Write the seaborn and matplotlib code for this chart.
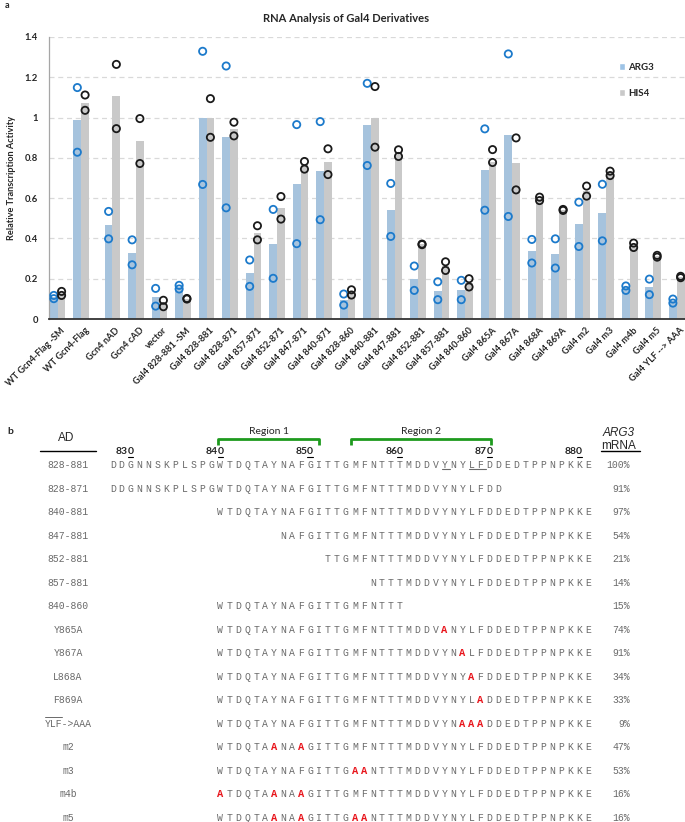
import numpy as np
import pandas as pd
import matplotlib.pyplot as plt
import seaborn as sns
from matplotlib.patches import Patch
from matplotlib.transforms import ScaledTranslation

# ---------------- panel a data ----------------
categories = [
    "WT Gcn4-Flag -SM", "WT Gcn4-Flag", "Gcn4 nAD", "Gcn4 cAD", "vector",
    "Gal4 828-881 -SM", "Gal4 828-881", "Gal4 828-871", "Gal4 857-871",
    "Gal4 852-871", "Gal4 847-871", "Gal4 840-871", "Gal4 828-860",
    "Gal4 840-881", "Gal4 847-881", "Gal4 852-881", "Gal4 857-881",
    "Gal4 840-860", "Gal4 865A", "Gal4 867A", "Gal4 868A", "Gal4 869A",
    "Gal4 m2", "Gal4 m3", "Gal4 m4b", "Gal4 m5", "Gal4 YLF --> AAA",
]

arg3_mean = [0.11, 0.99, 0.465, 0.33, 0.108, 0.158, 1.0, 0.905, 0.227,
             0.372, 0.668, 0.735, 0.095, 0.965, 0.54, 0.2, 0.14,
             0.143, 0.742, 0.912, 0.336, 0.325, 0.47, 0.528, 0.155,
             0.16, 0.09]
his4_mean = [0.127, 1.074, 1.105, 0.884, 0.078, 0.1, 1.0, 0.942, 0.428,
             0.552, 0.763, 0.781, 0.132, 1.0, 0.812, 0.37, 0.262,
             0.18, 0.779, 0.772, 0.596, 0.54, 0.635, 0.723, 0.366,
             0.311, 0.208]

arg3_rep1 = [0.117, 1.149, 0.534, 0.393, 0.152, 0.167, 1.329, 1.256, 0.293,
             0.544, 0.965, 0.98, 0.124, 1.17, 0.673, 0.263, 0.185,
             0.192, 0.944, 1.316, 0.395, 0.398, 0.58, 0.669, 0.164,
             0.198, 0.099]
arg3_rep2 = [0.101, 0.828, 0.398, 0.269, 0.064, 0.149, 0.668, 0.552, 0.162,
             0.202, 0.374, 0.493, 0.069, 0.762, 0.41, 0.142, 0.096,
             0.096, 0.54, 0.509, 0.278, 0.253, 0.36, 0.388, 0.142,
             0.121, 0.079]
his4_rep1 = [0.137, 1.112, 1.264, 0.995, 0.093, 0.102, 1.094, 0.977, 0.463,
             0.608, 0.782, 0.845, 0.145, 1.154, 0.84, 0.372, 0.284,
             0.2, 0.841, 0.899, 0.605, 0.544, 0.66, 0.734, 0.377,
             0.316, 0.212]
his4_rep2 = [0.117, 1.036, 0.945, 0.772, 0.061, 0.099, 0.902, 0.909, 0.393,
             0.496, 0.744, 0.717, 0.119, 0.853, 0.807, 0.369, 0.241,
             0.159, 0.777, 0.641, 0.588, 0.539, 0.61, 0.712, 0.355,
             0.307, 0.205]

y_ticks = [0, 0.2, 0.4, 0.6, 0.8, 1.0, 1.2, 1.4]
y_tick_labels = ["0", "0.2", "0.4", "0.6", "0.8", "1", "1.2", "1.4"]

# ---------------- panel b data ----------------
full_seq = "DDGNNSKPLSPGWTDQTAYNAFGITTGMFNTTTMDDVYNYLFDDEDTPPNPKKE"
seq_first = 828
row_labels = ["828-881", "828-871", "840-881", "847-881", "852-881",
              "857-881", "840-860", "Y865A", "Y867A", "L868A", "F869A",
              "YLF->AAA", "m2", "m3", "m4b", "m5"]
row_start = [828, 828, 840, 847, 852, 857, 840, 840, 840, 840, 840,
             840, 840, 840, 840, 840]
row_end = [881, 871, 881, 881, 881, 881, 860, 881, 881, 881, 881,
           881, 881, 881, 881, 881]
row_mutations = [[], [], [], [], [], [], [], [865], [867], [868], [869],
                 [867, 868, 869], [846, 849], [855, 856], [840, 846, 849],
                 [846, 849, 855, 856]]
arg3_mrna = ["100%", "91%", "97%", "54%", "21%", "14%", "15%", "74%",
             "91%", "34%", "33%", "9%", "47%", "53%", "16%", "16%"]
ruler_numbers = [830, 840, 850, 860, 870, 880]
regions = [("Region 1", 839.77, 851.0), ("Region 2", 854.53, 870.14)]

# colours
bar_blue = "#9DC3E6"
bar_gray = "#C9C9C9"
dot_blue = "#1C7ACB"
dot_black = "#1A1A1A"
seq_gray = "#6A6A6A"

sns.set_style("white")
plt.rcParams["font.family"] = ["Lato", "DejaVu Sans"]

fig = plt.figure(figsize=(6.85, 8.22), dpi=100)
W, H = 685, 822

# ---------------- panel a ----------------
ax = fig.add_axes([49 / W, 1 - 319 / H, 636 / W, 282 / H])

group_gap = 0.33
positions = np.array([i + (group_gap if i >= 2 else 0)
                      for i in range(len(categories))])

bars = pd.DataFrame({
    "pos": np.concatenate([positions, positions]),
    "value": arg3_mean + his4_mean,
    "gene": ["ARG3"] * len(categories) + ["HIS4"] * len(categories),
})

sns.barplot(
    data=bars, x="pos", y="value", hue="gene",
    hue_order=["ARG3", "HIS4"],
    palette=[bar_blue, bar_gray],
    native_scale=True, width=0.66, gap=0,
    errorbar=None, linewidth=0, legend=False, ax=ax,
)

offset = 0.165
sns.scatterplot(
    x=np.concatenate([positions - offset, positions - offset]),
    y=arg3_rep1 + arg3_rep2,
    s=27, marker="o", facecolors="none",
    edgecolor=dot_blue, linewidth=1.3, zorder=4, ax=ax,
)
sns.scatterplot(
    x=np.concatenate([positions + offset, positions + offset]),
    y=his4_rep1 + his4_rep2,
    s=27, marker="o", facecolors="none",
    edgecolor=dot_black, linewidth=1.3, zorder=5, ax=ax,
)

ax.set_xlim(-0.37, positions[-1] + 0.35)
ax.set_ylim(0, 1.4)
ax.set_yticks(y_ticks)
ax.set_yticklabels(y_tick_labels, fontsize=6.8, fontweight="bold")
ax.set_xticks(positions)
ax.set_xticklabels(categories, rotation=45, ha="right",
                   rotation_mode="anchor", fontsize=6.6, fontweight="bold")
ax.tick_params(axis="both", length=0)
ax.tick_params(axis="y", pad=8)
ax.tick_params(axis="x", pad=5)
shift = ScaledTranslation(3 / 100, 0, fig.dpi_scale_trans)
for lab in ax.get_xticklabels():
    lab.set_transform(lab.get_transform() + shift)

for yv in y_ticks[1:]:
    ax.axhline(yv, color="#D9D9D9", linestyle=(0, (4, 3)),
               linewidth=0.9, zorder=0)

sns.despine(ax=ax, top=True, right=True)
ax.spines["left"].set_color("#A6A6A6")
ax.spines["left"].set_linewidth(0.9)
ax.spines["bottom"].set_color("#333333")
ax.spines["bottom"].set_linewidth(1.3)

ax.set_xlabel("")
ax.set_ylabel("Relative Transcription Activity", fontsize=6.6,
              fontweight="bold", labelpad=6)

handles = [Patch(facecolor=bar_blue, label="ARG3"),
           Patch(facecolor=bar_gray, label="HIS4")]
ax.legend(handles=handles, loc="upper left",
          bbox_to_anchor=(610 / W, 1 - 54 / H),
          bbox_transform=fig.transFigure, frameon=False,
          handlelength=0.65, handleheight=0.65, handletextpad=0.35,
          labelspacing=1.75, prop={"size": 7, "weight": "bold"})

fig.text(346 / W, 1 - 19 / H, "RNA Analysis of Gal4 Derivatives",
         ha="center", va="center", fontsize=8, fontweight="bold")
fig.text(5 / W, 1 - 5 / H, "a", ha="left", va="center",
         fontsize=6.5, fontweight="bold")

# ---------------- panel b ----------------
bx = fig.add_axes([0, 0, 1, 1 - 390 / H])
bx.set_xlim(0, W)
bx.set_ylim(H, 390)
bx.axis("off")

seq_x0 = 112.7
res_step = 8.97
row_y0 = 465
row_step = 23.53
label_x = 68
pct_x = 630


def res_x(n):
    return seq_x0 + (n - seq_first) * res_step


mono = "Liberation Mono"
sans = "Liberation Sans"

bx.text(7, 431, "b", ha="left", va="center", fontsize=7.5,
        fontweight="bold", family="Lato")
bx.text(66, 438, "AD", ha="center", va="center", fontsize=8.5, family=sans)
bx.plot([40, 96], [451, 451], color="black", linewidth=1)

bx.text(619, 433, "ARG3", ha="center", va="center", fontsize=8.5,
        family=sans, style="italic")
bx.text(619, 446, "mRNA", ha="center", va="center", fontsize=8.5,
        family=sans)
bx.plot([601, 640], [451.5, 451.5], color="black", linewidth=1)

# ruler numbers with the last digit underlined
for num in ruler_numbers:
    x = res_x(num)
    digits = str(num)
    bx.text(x - 2.6, 452, digits[:-1], ha="right", va="center",
            fontsize=7.5, fontweight="bold", family="Lato")
    bx.text(x, 452, digits[-1], ha="center", va="center",
            fontsize=7.5, fontweight="bold", family="Lato")
    bx.plot([x - 2.6, x + 2.6], [457.5, 457.5], color="black", linewidth=0.8)

# region brackets
for name, r0, r1 in regions:
    x0 = res_x(r0)
    x1 = res_x(r1)
    bx.plot([x0, x0, x1, x1], [445.5, 439.5, 439.5, 445.5],
            color="#1E9A1E", linewidth=2, solid_capstyle="butt")
    bx.text((x0 + x1) / 2, 431, name, ha="center", va="center",
            fontsize=7.5, family="Lato")

# sequence rows
for i, label in enumerate(row_labels):
    y = row_y0 + i * row_step
    bx.text(label_x, y, label, ha="center", va="center", fontsize=7,
            family=mono, color=seq_gray)
    bx.text(pct_x, y, arg3_mrna[i], ha="right", va="center", fontsize=7,
            family=mono, color=seq_gray)
    for n in range(row_start[i], row_end[i] + 1):
        if n in row_mutations[i]:
            bx.text(res_x(n), y, "A", ha="center", va="center",
                    fontsize=7.5, family=mono, fontweight="bold",
                    color="#E8141B")
        else:
            bx.text(res_x(n), y, full_seq[n - seq_first], ha="center",
                    va="center", fontsize=7, family=mono, color=seq_gray)

# underlines under Y865 and L868-F869 in the first row
y_ul = row_y0 + 4.5
bx.plot([res_x(864.7), res_x(865.6)], [y_ul, y_ul], color=seq_gray,
        linewidth=0.8)
bx.plot([res_x(867.7), res_x(869.65)], [y_ul, y_ul], color=seq_gray,
        linewidth=0.8)

# overline on "YLF" of YLF->AAA
y_ylf = row_y0 + 11 * row_step
bx.plot([45, 62], [y_ylf - 7, y_ylf - 7], color=seq_gray, linewidth=0.7)

fig.savefig("out.png", dpi=100)
